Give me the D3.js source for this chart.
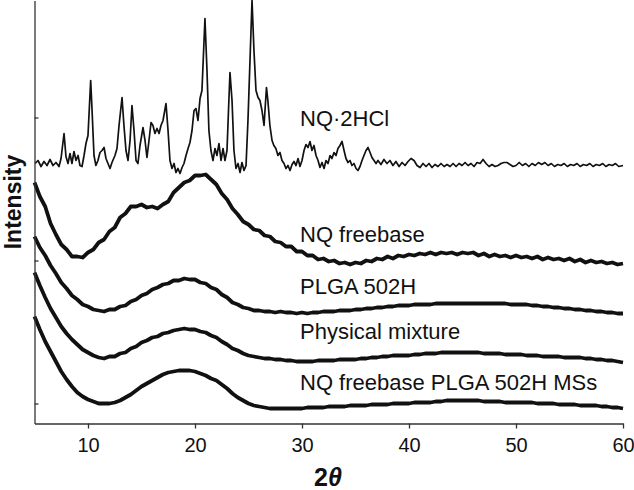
<!DOCTYPE html>
<html>
<head>
<meta charset="utf-8">
<script src="https://cdn.jsdelivr.net/npm/d3@7"></script>
<style>
  body { margin: 0; background: #fff; }
  text { font-family: Arial, "Liberation Sans", Helvetica, sans-serif; }
</style>
</head>
<body>
<div id="xrd"></div>
<script>
// NQ.2HCl crystalline pattern, [2theta, counts]
var hclPattern = [
  [5.05,260],[5.33,263],[5.61,257],[5.89,262],[6.17,258],[6.45,264],[6.73,258],[7.01,261],[7.29,257],[7.48,265],
  [7.76,290],[7.94,267],[8.13,260],[8.32,270],[8.50,260],[8.69,272],[8.88,263],[9.07,268],[9.25,258],[9.44,257],
  [9.63,268],[9.81,280],[10.0,288],[10.25,343],[10.38,313],[10.56,268],[10.74,258],[10.93,263],[11.12,271],[11.31,273],
  [11.50,276],[11.68,265],[11.87,260],[12.06,255],[12.24,261],[12.52,268],[12.71,275],[12.90,298],[13.18,326],[13.36,298],
  [13.55,273],[13.74,263],[13.93,283],[14.11,318],[14.30,293],[14.49,263],[14.67,260],[14.86,278],[15.14,296],[15.33,283],
  [15.51,266],[15.70,283],[15.89,301],[16.07,298],[16.26,290],[16.45,295],[16.64,290],[16.82,298],[17.01,303],[17.29,320],
  [17.48,293],[17.66,263],[17.85,255],[18.04,260],[18.22,251],[18.41,255],[18.60,250],[18.79,256],[18.97,260],[19.16,268],
  [19.35,275],[19.53,281],[19.72,293],[19.91,313],[20.09,315],[20.28,303],[20.47,325],[20.65,333],[20.93,405],[21.12,353],
  [21.30,293],[21.49,273],[21.68,263],[21.87,275],[22.05,268],[22.24,280],[22.43,263],[22.62,275],[22.80,263],[22.99,273],
  [23.13,313],[23.27,351],[23.46,323],[23.64,273],[23.83,255],[24.02,260],[24.21,251],[24.39,261],[24.58,253],[24.77,258],
  [24.95,303],[25.14,363],[25.33,423],[25.51,373],[25.70,333],[25.89,326],[26.07,323],[26.26,313],[26.45,298],[26.68,336],
  [26.81,323],[27.00,298],[27.20,283],[27.37,278],[27.56,275],[27.75,268],[27.94,271],[28.13,263],[28.32,260],[28.50,255],
  [28.69,258],[28.88,253],[29.07,259],[29.25,262],[29.44,258],[29.63,265],[29.81,257],[30.00,263],[30.19,273],[30.37,279],
  [30.56,276],[30.75,282],[30.93,273],[31.12,278],[31.31,268],[31.50,263],[31.68,256],[31.87,261],[32.06,255],[32.24,263],
  [32.43,260],[32.62,268],[32.80,265],[32.99,271],[33.18,268],[33.36,275],[33.55,278],[33.74,282],[33.93,273],[34.11,265],
  [34.30,261],[34.49,263],[34.67,258],[34.86,260],[35.05,255],[35.23,253],[35.42,257],[35.61,263],[35.79,268],[35.98,273],
  [36.17,276],[36.36,271],[36.54,266],[36.73,263],[36.92,260],[37.10,263],[37.38,259],[37.66,264],[37.94,260],[38.22,263],
  [38.50,258],[38.78,262],[39.07,257],[39.35,261],[39.63,258],[39.91,262],[40.19,265],[40.47,263],[40.75,258],[41.03,256],
  [41.31,260],[41.59,257],[41.87,260],[42.15,256],[42.43,259],[42.71,257],[42.99,260],[43.28,257],[43.56,259],[43.84,257],
  [44.12,260],[44.40,257],[44.68,260],[44.96,258],[45.24,261],[45.52,258],[45.80,260],[46.08,257],[46.36,261],[46.64,260],
  [46.92,264],[47.20,260],[47.48,257],[47.76,259],[48.04,257],[48.32,258],[48.60,260],[48.88,261],[49.16,261],[49.44,259],
  [49.72,257],[50.00,258],[50.30,261],[50.60,258],[50.90,260],[51.20,257],[51.50,260],[51.80,258],[52.10,261],[52.40,259],
  [52.70,261],[53.00,258],[53.30,260],[53.60,257],[53.90,259],[54.20,258],[54.50,260],[54.80,257],[55.10,259],[55.40,258],
  [55.70,260],[56.00,257],[56.30,259],[56.60,258],[56.90,260],[57.20,257],[57.50,259],[57.80,258],[58.10,260],[58.40,257],
  [58.70,259],[59.00,258],[59.30,260],[59.60,257],[60.00,258]
];

// amorphous patterns share one 0.5 degree step scan from 5 to 60
var scanStep = 0.5
var freebaseCounts = [
  241,227,217,200,189,179,174,167,167,166,
  171,174,181,184,192,196,206,210,217,217,
  219,216,217,215,219,222,231,236,241,243,
  248,248,249,244,239,230,224,215,209,202,
  199,194,193,188,187,182,181,177,177,172,
  172,168,168,164,165,162,163,160,161,159,
  161,160,163,162,165,164,167,165,168,167,
  169,168,170,169,171,169,171,170,171,169,
  171,170,171,168,170,167,169,167,168,166,
  168,166,167,165,167,164,166,164,165,163,
  165,162,164,161,163,161,162,160,161,159,
  160
];
var plgaCounts = [
  187,176,168,158,150,141,135,128,124,119,
  117,114,113,112,114,114,117,118,122,124,
  128,130,134,136,139,140,143,143,145,144,
  144,141,140,136,134,129,126,121,119,116,
  115,113,113,112,112,111,112,111,111,110,
  111,110,111,111,112,112,112,113,113,113,
  114,114,115,115,116,116,117,117,118,118,
  118,119,119,119,119,120,120,120,120,120,
  120,120,120,120,120,120,120,120,120,119,
  119,119,119,118,118,117,117,116,116,115,
  115,114,114,113,113,112,112,111,111,110,
  110
];
var mixtureCounts = [
  151,138,126,115,106,97,90,84,79,74,
  71,68,66,65,67,67,70,71,75,77,
  81,83,86,87,90,91,93,94,95,94,
  94,92,91,88,86,82,79,75,73,70,
  68,67,66,65,65,64,64,63,63,62,
  62,62,62,63,63,63,63,64,64,64,
  64,65,65,66,66,67,67,68,68,68,
  68,69,69,70,70,70,71,71,71,71,
  71,71,71,71,70,70,70,70,69,69,
  69,69,68,68,68,67,67,67,67,66,
  66,66,66,65,65,64,64,63,63,62,
  61
];
var mssCounts = [
  107,94,82,72,62,52,44,37,31,27,
  24,22,20,20,20,21,23,26,29,33,
  37,40,43,46,49,51,52,53,53,53,
  52,50,48,45,43,39,35,30,26,23,
  20,18,17,16,15,15,15,15,15,15,
  15,16,16,16,16,17,17,17,17,18,
  18,18,18,19,19,19,19,20,20,20,
  20,21,21,21,21,22,22,23,23,23,
  23,23,23,23,22,22,22,22,21,21,
  21,21,21,21,20,20,20,20,19,19,
  19,19,18,18,18,18,17,17,16,16,
  15
];

var seriesLabels = ["NQ\u00b72HCl", "NQ freebase", "PLGA 502H", "Physical mixture", "NQ freebase PLGA 502H MSs"]
var xTicks = [10, 20, 30, 40, 50, 60]
var yTicks = [20, 163, 306]

// sizes of the picture
var widthSvg = 634
var heightSvg = 490
var plotLeft = 34.5
var plotRight = 623
var plotBottom = 423.5
var labelX = 300
var labelBaselines = [126, 242, 294, 339, 390]

var svg = d3.select("#xrd")
  .append("svg")
  .attr("width", widthSvg)
  .attr("height", heightSvg);

var xScale = d3.scaleLinear()
  .domain([5, 60])
  .range([plotLeft, plotRight]);

var yScale = d3.scaleLinear()
  .domain([0, 423])
  .range([plotBottom, 0.5]);

// build angle grid for the amorphous scans
var scanAngles = d3.range(freebaseCounts.length).map(function(i) { return 5 + i * scanStep })

function toPoints(counts) {
  return counts.map(function(c, i) { return [scanAngles[i], c] })
}

var line = d3.line()
  .x(function(d) { return xScale(d[0]) })
  .y(function(d) { return yScale(d[1]) });

// crystalline trace is thin
svg.append("path")
  .datum(hclPattern)
  .attr("d", line)
  .attr("fill", "none")
  .attr("stroke", "#111")
  .attr("stroke-width", 1.7)
  .attr("stroke-linejoin", "round");

// noisy amorphous traces drawn as thick lines
var amorphous = [freebaseCounts, plgaCounts, mixtureCounts, mssCounts]
svg.selectAll(".amorph")
  .data(amorphous)
  .enter()
  .append("path")
  .attr("class", "amorph")
  .attr("d", function(d) { return line(toPoints(d)) })
  .attr("fill", "none")
  .attr("stroke", "#111")
  .attr("stroke-width", 3.8)
  .attr("stroke-linejoin", "round");

// axes
var xAxis = d3.axisBottom(xScale)
  .tickValues(xTicks)
  .tickSizeInner(5)
  .tickSizeOuter(0)
  .tickPadding(9);

var yAxis = d3.axisLeft(yScale)
  .tickValues(yTicks)
  .tickSizeInner(-4)
  .tickSizeOuter(0)
  .tickFormat("");

var gx = svg.append("g")
  .attr("transform", "translate(0," + plotBottom + ")")
  .call(xAxis);

var gy = svg.append("g")
  .attr("transform", "translate(" + plotLeft + ",0)")
  .call(yAxis);

svg.selectAll(".domain, .tick line")
  .attr("stroke", "#333")
  .attr("stroke-width", 1.3);

gx.selectAll(".tick text")
  .attr("font-size", 20)
  .attr("fill", "#111")
  .style("font-family", "Arial, 'Liberation Sans', sans-serif");

// series names
svg.selectAll(".series-label")
  .data(seriesLabels)
  .enter()
  .append("text")
  .attr("class", "series-label")
  .attr("x", labelX)
  .attr("y", function(d, i) { return labelBaselines[i] })
  .attr("font-size", 22)
  .attr("fill", "#111")
  .text(function(d) { return d });

// axis titles
svg.append("text")
  .attr("x", 328)
  .attr("y", 486)
  .attr("text-anchor", "middle")
  .attr("font-size", 25)
  .attr("font-weight", "bold")
  .attr("fill", "#111")
  .html('2<tspan font-style="italic">\u03b8</tspan>');

svg.append("text")
  .attr("transform", "translate(21,202) rotate(-90)")
  .attr("text-anchor", "middle")
  .attr("font-size", 23)
  .attr("font-weight", "bold")
  .attr("fill", "#111")
  .text("Intensity");
</script>
</body>
</html>
